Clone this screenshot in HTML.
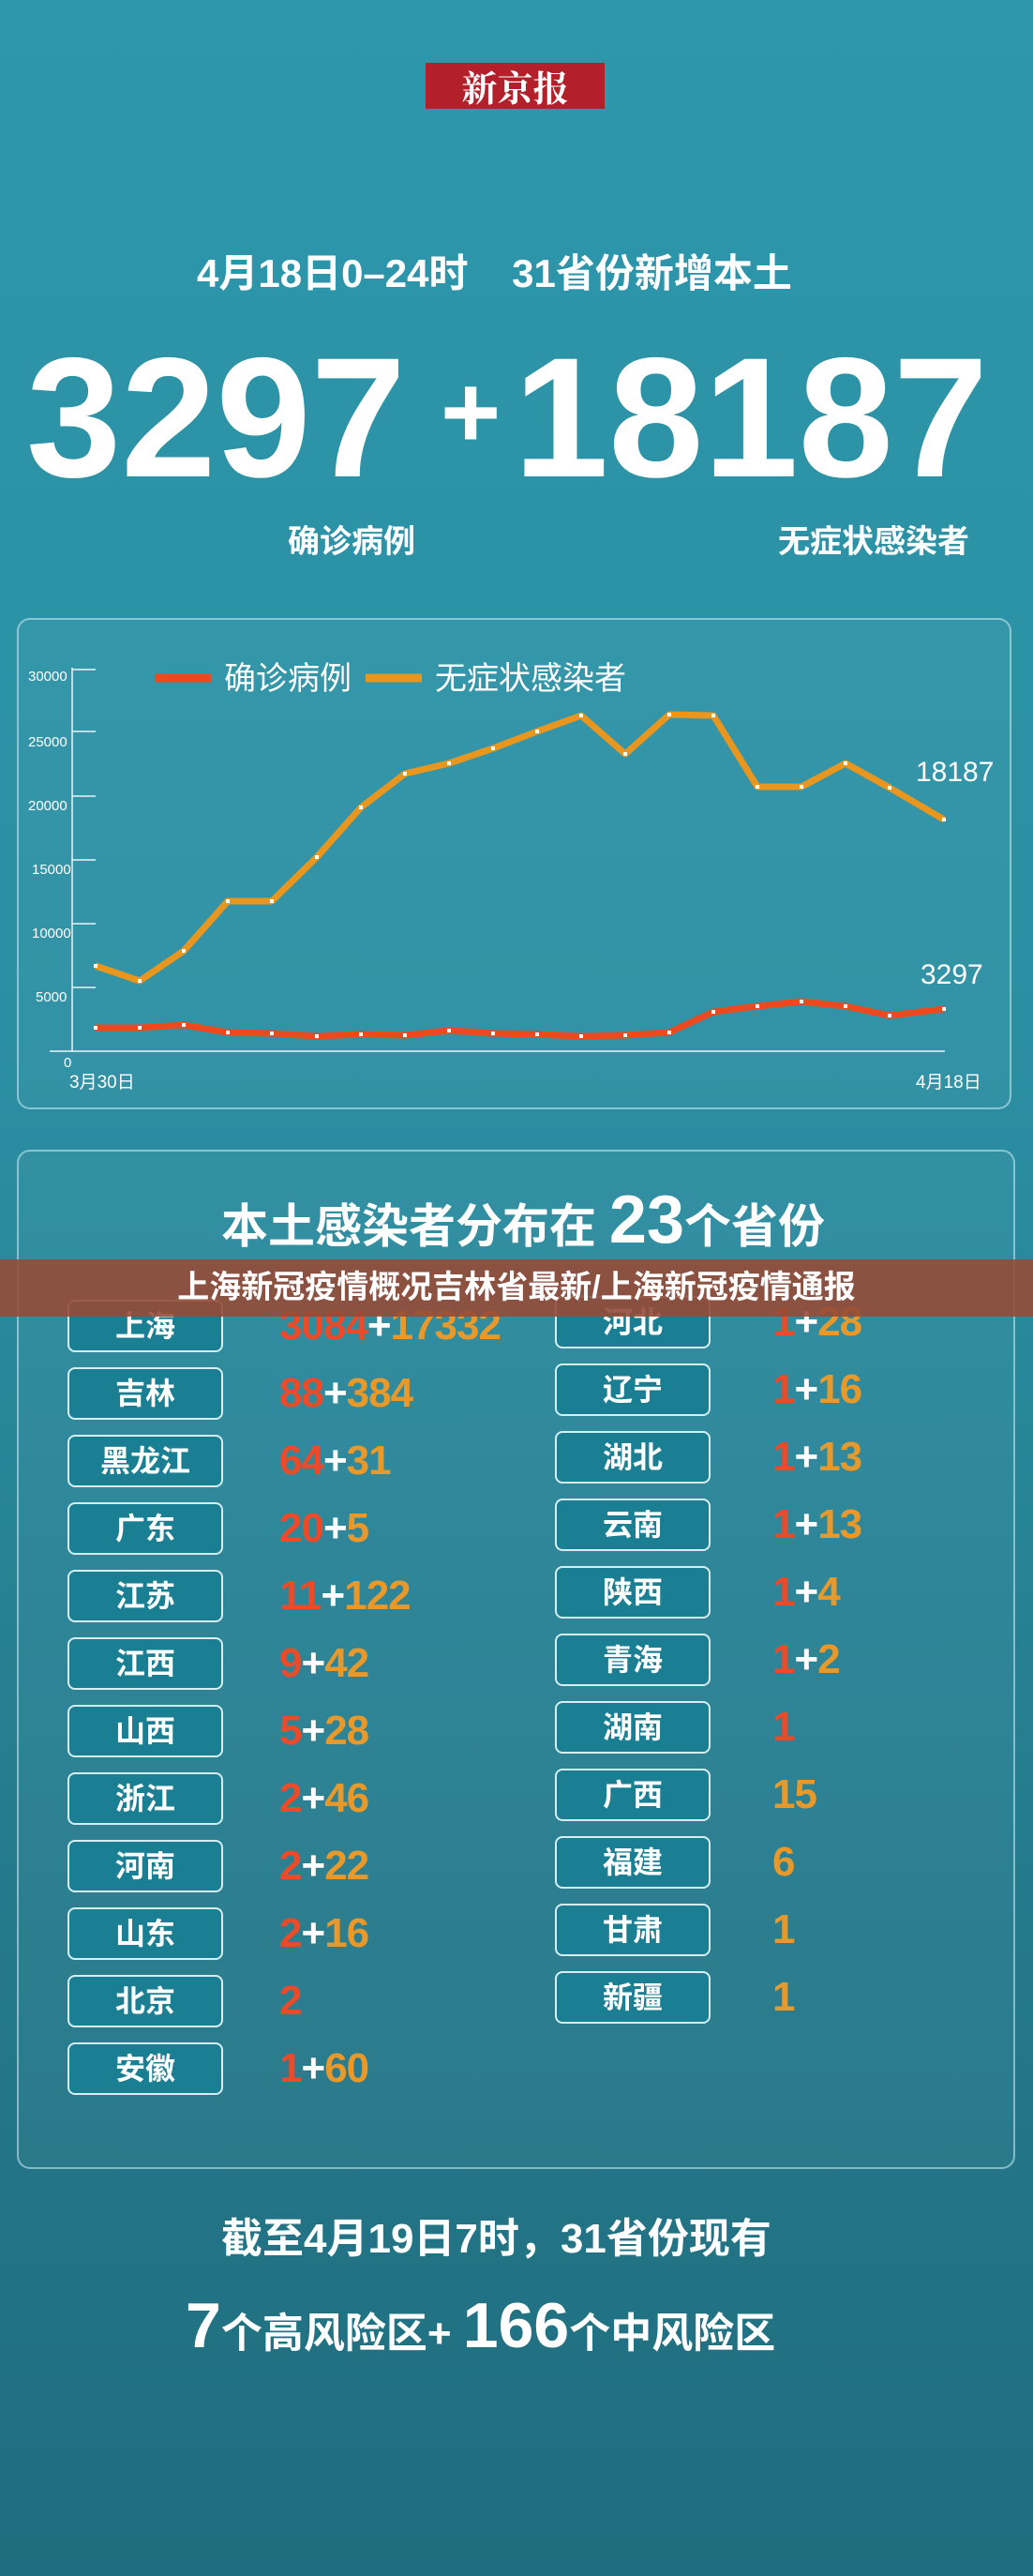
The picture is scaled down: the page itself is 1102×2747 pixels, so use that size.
<!DOCTYPE html>
<html><head><meta charset="utf-8"><style>
*{margin:0;padding:0;box-sizing:border-box}
body{width:1102px;height:2747px;position:relative;overflow:hidden;font-family:"Liberation Sans","Noto Sans CJK SC",sans-serif;color:#fff;
background:linear-gradient(180deg,#2e97ab 0%,#2b8fa3 40%,#24798b 75%,#1f6d7e 100%);}
.a{position:absolute;white-space:nowrap}
.panel{position:absolute;border:2px solid rgba(210,240,245,0.55);border-radius:14px;background:rgba(255,255,255,0.04)}
.box{position:absolute;width:166px;height:56px;border:2px solid #d6eef2;border-radius:8px;background:#1b7f93;font-weight:bold;font-size:32px;text-align:center;line-height:52px}
.num{position:absolute;font-weight:bold;font-size:44px;line-height:56px;letter-spacing:-1px;font-family:"Liberation Sans Narrow","Liberation Sans",sans-serif}
.r{color:#ec4a28}.o{color:#e9992a}.w{color:#fff}
</style></head><body>
<div class="a" style="left:454px;top:67px;width:191px;height:49px;background:#b3202a;color:#fff;font-family:'Noto Serif CJK SC',serif;font-weight:bold;font-size:38px;line-height:49px;text-align:center">新京报</div>
<div class="a" style="left:210px;top:258px;font-size:42px;font-weight:bold;word-spacing:0">4月18日0–24时&nbsp;&nbsp;&nbsp;&nbsp;31省份新增本土</div>
<div class="a" style="left:28px;top:345px;font-size:182px;font-weight:bold;line-height:200px">3297</div>
<div class="a" style="left:470px;top:360px;font-size:110px;font-weight:bold;line-height:160px">+</div>
<div class="a" style="left:548px;top:345px;font-size:182px;font-weight:bold;line-height:200px">18187</div>
<div class="a" style="left:307px;top:550px;font-size:34px;font-weight:bold">确诊病例</div>
<div class="a" style="left:830px;top:550px;font-size:34px;font-weight:bold">无症状感染者</div>

<div class="panel" style="left:18px;top:659px;width:1061px;height:524px"></div>
<svg class="a" style="left:0;top:0" width="1102" height="1200" viewBox="0 0 1102 1200">
<g stroke="#fff" stroke-width="1.5" fill="none" opacity="0.9">
<line x1="77" y1="712" x2="77" y2="1121"/>
<line x1="53" y1="1121" x2="1008" y2="1121"/>
<line x1="77" y1="714" x2="102" y2="714"/><line x1="77" y1="780" x2="102" y2="780"/><line x1="77" y1="849" x2="102" y2="849"/><line x1="77" y1="917" x2="102" y2="917"/><line x1="77" y1="985" x2="102" y2="985"/><line x1="77" y1="1053" x2="102" y2="1053"/>
</g>
<g fill="#fff" font-size="15" font-family="Liberation Sans">
<text x="30" y="726">30000</text><text x="30" y="796">25000</text><text x="30" y="864">20000</text><text x="34" y="932">15000</text><text x="34" y="1000">10000</text><text x="38" y="1068">5000</text><text x="68" y="1138">0</text>
<text x="74" y="1160" font-size="19">3月30日</text><text x="977" y="1160" font-size="19">4月18日</text>
<text x="977" y="833" font-size="30">18187</text><text x="982" y="1049" font-size="30">3297</text>
</g>
<line x1="165" y1="723" x2="225" y2="723" stroke="#ec4a1e" stroke-width="9"/>
<text x="239" y="735" fill="#fff" font-size="34" font-family="Noto Sans CJK SC">确诊病例</text>
<line x1="390" y1="723" x2="450" y2="723" stroke="#e8961e" stroke-width="9"/>
<text x="464" y="735" fill="#fff" font-size="34" font-family="Noto Sans CJK SC">无症状感染者</text>
<polyline fill="none" stroke="#e8961e" stroke-width="7" stroke-linejoin="round" points="102,1030 149,1046 196,1014 243,961 290,961 338,914 385,861 432,825 479,814 526,798 573,780 620,763 667,804 714,762 761,763 808,839 855,839 902,814 949,840 1007,874"/>
<polyline fill="none" stroke="#ec4a1e" stroke-width="7" stroke-linejoin="round" points="102,1096 149,1096 196,1093 243,1101 290,1102 338,1105 385,1103 432,1104 479,1099 526,1102 573,1103 620,1105 667,1104 714,1101 761,1079 808,1073 855,1068 902,1073 949,1083 1007,1076"/>
<g fill="#fff">
<rect x="100" y="1028" width="4" height="4"/><rect x="147" y="1044" width="4" height="4"/><rect x="194" y="1012" width="4" height="4"/><rect x="241" y="959" width="4" height="4"/><rect x="288" y="959" width="4" height="4"/><rect x="336" y="912" width="4" height="4"/><rect x="383" y="859" width="4" height="4"/><rect x="430" y="823" width="4" height="4"/><rect x="477" y="812" width="4" height="4"/><rect x="524" y="796" width="4" height="4"/><rect x="571" y="778" width="4" height="4"/><rect x="618" y="761" width="4" height="4"/><rect x="665" y="802" width="4" height="4"/><rect x="712" y="760" width="4" height="4"/><rect x="759" y="761" width="4" height="4"/><rect x="806" y="837" width="4" height="4"/><rect x="853" y="837" width="4" height="4"/><rect x="900" y="812" width="4" height="4"/><rect x="947" y="838" width="4" height="4"/><rect x="1005" y="872" width="4" height="4"/>
<rect x="100" y="1094" width="4" height="4"/><rect x="147" y="1094" width="4" height="4"/><rect x="194" y="1091" width="4" height="4"/><rect x="241" y="1099" width="4" height="4"/><rect x="288" y="1100" width="4" height="4"/><rect x="336" y="1103" width="4" height="4"/><rect x="383" y="1101" width="4" height="4"/><rect x="430" y="1102" width="4" height="4"/><rect x="477" y="1097" width="4" height="4"/><rect x="524" y="1100" width="4" height="4"/><rect x="571" y="1101" width="4" height="4"/><rect x="618" y="1103" width="4" height="4"/><rect x="665" y="1102" width="4" height="4"/><rect x="712" y="1099" width="4" height="4"/><rect x="759" y="1077" width="4" height="4"/><rect x="806" y="1071" width="4" height="4"/><rect x="853" y="1066" width="4" height="4"/><rect x="900" y="1071" width="4" height="4"/><rect x="947" y="1081" width="4" height="4"/><rect x="1005" y="1074" width="4" height="4"/>
</g>
</svg>

<div class="panel" style="left:18px;top:1226px;width:1065px;height:1087px"></div>
<div class="a" style="left:236px;top:1266px;font-size:50px;font-weight:bold;line-height:70px">本土感染者分布在 <span style="font-size:72px">23</span>个省份</div>

<div class="box" style="left:72px;top:1386px">上海</div><div class="num" style="left:298px;top:1386px"><span class="r">3084</span><span class="w">+</span><span class="o">17332</span></div>
<div class="box" style="left:72px;top:1458px">吉林</div><div class="num" style="left:298px;top:1458px"><span class="r">88</span><span class="w">+</span><span class="o">384</span></div>
<div class="box" style="left:72px;top:1530px">黑龙江</div><div class="num" style="left:298px;top:1530px"><span class="r">64</span><span class="w">+</span><span class="o">31</span></div>
<div class="box" style="left:72px;top:1602px">广东</div><div class="num" style="left:298px;top:1602px"><span class="r">20</span><span class="w">+</span><span class="o">5</span></div>
<div class="box" style="left:72px;top:1674px">江苏</div><div class="num" style="left:298px;top:1674px"><span class="r">11</span><span class="w">+</span><span class="o">122</span></div>
<div class="box" style="left:72px;top:1746px">江西</div><div class="num" style="left:298px;top:1746px"><span class="r">9</span><span class="w">+</span><span class="o">42</span></div>
<div class="box" style="left:72px;top:1818px">山西</div><div class="num" style="left:298px;top:1818px"><span class="r">5</span><span class="w">+</span><span class="o">28</span></div>
<div class="box" style="left:72px;top:1890px">浙江</div><div class="num" style="left:298px;top:1890px"><span class="r">2</span><span class="w">+</span><span class="o">46</span></div>
<div class="box" style="left:72px;top:1962px">河南</div><div class="num" style="left:298px;top:1962px"><span class="r">2</span><span class="w">+</span><span class="o">22</span></div>
<div class="box" style="left:72px;top:2034px">山东</div><div class="num" style="left:298px;top:2034px"><span class="r">2</span><span class="w">+</span><span class="o">16</span></div>
<div class="box" style="left:72px;top:2106px">北京</div><div class="num" style="left:298px;top:2106px"><span class="r">2</span></div>
<div class="box" style="left:72px;top:2178px">安徽</div><div class="num" style="left:298px;top:2178px"><span class="r">1</span><span class="w">+</span><span class="o">60</span></div>

<div class="box" style="left:592px;top:1382px">河北</div><div class="num" style="left:824px;top:1382px"><span class="r">1</span><span class="w">+</span><span class="o">28</span></div>
<div class="box" style="left:592px;top:1454px">辽宁</div><div class="num" style="left:824px;top:1454px"><span class="r">1</span><span class="w">+</span><span class="o">16</span></div>
<div class="box" style="left:592px;top:1526px">湖北</div><div class="num" style="left:824px;top:1526px"><span class="r">1</span><span class="w">+</span><span class="o">13</span></div>
<div class="box" style="left:592px;top:1598px">云南</div><div class="num" style="left:824px;top:1598px"><span class="r">1</span><span class="w">+</span><span class="o">13</span></div>
<div class="box" style="left:592px;top:1670px">陕西</div><div class="num" style="left:824px;top:1670px"><span class="r">1</span><span class="w">+</span><span class="o">4</span></div>
<div class="box" style="left:592px;top:1742px">青海</div><div class="num" style="left:824px;top:1742px"><span class="r">1</span><span class="w">+</span><span class="o">2</span></div>
<div class="box" style="left:592px;top:1814px">湖南</div><div class="num" style="left:824px;top:1814px"><span class="r">1</span></div>
<div class="box" style="left:592px;top:1886px">广西</div><div class="num" style="left:824px;top:1886px"><span class="o">15</span></div>
<div class="box" style="left:592px;top:1958px">福建</div><div class="num" style="left:824px;top:1958px"><span class="o">6</span></div>
<div class="box" style="left:592px;top:2030px">甘肃</div><div class="num" style="left:824px;top:2030px"><span class="o">1</span></div>
<div class="box" style="left:592px;top:2102px">新疆</div><div class="num" style="left:824px;top:2102px"><span class="o">1</span></div>

<div class="a" style="left:0;top:1343px;width:1102px;height:61px;background:rgba(150,75,55,0.9);font-size:34px;font-weight:bold;text-align:center;line-height:61px">上海新冠疫情概况吉林省最新/上海新冠疫情通报</div>

<div class="a" style="left:236px;top:2360px;font-size:44px;font-weight:bold;line-height:56px">截至4月19日7时，31省份现有</div>
<div class="a" style="left:198px;top:2440px;font-size:44px;font-weight:bold;line-height:80px"><span style="font-size:68px">7</span>个高风险区+ <span style="font-size:68px">166</span>个中风险区</div>
</body></html>
